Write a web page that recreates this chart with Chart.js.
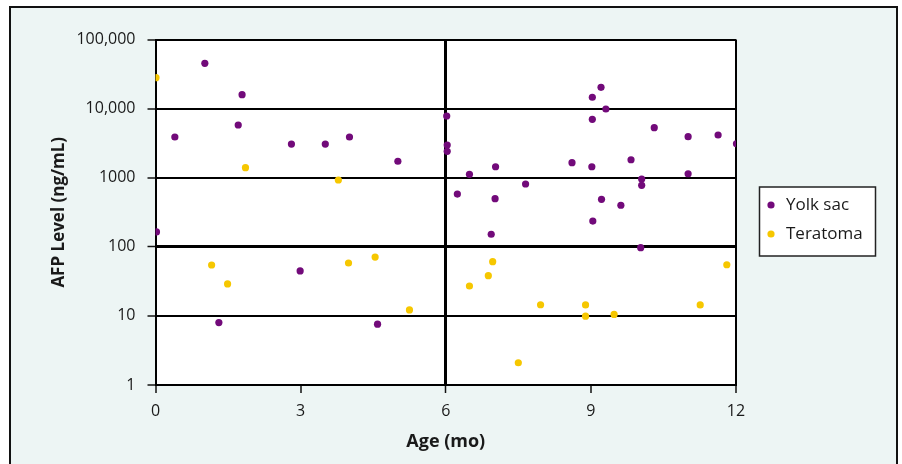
<!DOCTYPE html>
<html>
<head>
<meta charset="utf-8">
<script src="https://cdn.jsdelivr.net/npm/chart.js@4.4.1/dist/chart.umd.min.js"></script>
<style>
  html, body { margin: 0; padding: 0; background: #ffffff; }
  canvas { display: block; }
</style>
</head>
<body>
<canvas id="c" width="902" height="464"></canvas>
<script>
// ---- Data ----
const seriesNames = ['Yolk sac', 'Teratoma'];
const yolkAge = [0.02, 0.40, 1.02, 1.31, 1.71, 1.79, 2.81, 2.99, 3.51, 4.01, 4.59, 5.01,
  6.02, 6.03, 6.03, 6.24, 6.49, 6.94, 7.02, 7.03, 7.65, 8.61, 9.02, 9.03, 9.03, 9.04,
  9.21, 9.22, 9.31, 9.62, 9.83, 10.03, 10.05, 10.05, 10.31, 11.01, 11.01, 11.63, 12.01];
const yolkAfp = [164, 3880, 45200, 8.0, 5790, 15900, 3070, 44.7, 3070, 3880, 7.6, 1730,
  7810, 2970, 2410, 580, 1120, 152, 497, 1440, 811, 1650, 1440, 14600, 7000, 236,
  20300, 487, 9870, 399, 1820, 97, 957, 776, 5290, 3920, 1140, 4150, 3100];
const teratomaAge = [0.01, 1.16, 1.49, 1.86, 3.78, 3.99, 4.54, 5.25, 6.49, 6.88, 6.97,
  7.50, 7.96, 8.89, 8.89, 9.48, 11.26, 11.81];
const teratomaAfp = [28000, 54.5, 29, 1395, 926, 58.3, 71, 12.2, 27.1, 38.2, 60.9,
  2.1, 14.5, 14.4, 9.9, 10.5, 14.4, 55];
const xTickValues = [0, 3, 6, 9, 12];
const yTickValues = [1, 10, 100, 1000, 10000, 100000];
const yTickLabels = ['1', '10', '100', '1000', '10,000', '100,000'];
const xTitle = 'Age (mo)';
const yTitle = 'AFP Level (ng/mL)';

const purple = '#720a7a';
const yellow = '#f6c700';
const FONT = "'Open Sans', 'Noto Sans', sans-serif";

const toPoints = (xs, ys) => xs.map((x, i) => ({ x: x, y: ys[i] }));

const framePlugin = {
  id: 'frame',
  beforeDraw(chart) {
    const ctx = chart.ctx;
    const a = chart.chartArea;
    ctx.save();
    ctx.fillStyle = '#ffffff';
    ctx.fillRect(0, 0, chart.width, chart.height);
    ctx.fillStyle = '#edf5f4';
    ctx.fillRect(10, 7, 887, 470);
    ctx.strokeStyle = '#111';
    ctx.lineWidth = 2;
    ctx.strokeRect(10, 7, 887, 470);
    ctx.fillStyle = '#ffffff';
    ctx.fillRect(a.left, a.top, a.right - a.left, a.bottom - a.top);
    ctx.restore();
  },
  afterDraw(chart) {
    const ctx = chart.ctx;
    ctx.save();
    ctx.fillStyle = '#ffffff';
    ctx.fillRect(759.5, 187, 116, 69);
    ctx.strokeStyle = '#222';
    ctx.lineWidth = 1.5;
    ctx.strokeRect(759.5, 187, 116, 69);
    const ys = [205, 234];
    chart.data.datasets.forEach((ds, i) => {
      ctx.beginPath();
      ctx.fillStyle = ds.backgroundColor;
      ctx.arc(771, ys[i], 3.6, 0, Math.PI * 2);
      ctx.fill();
      ctx.fillStyle = '#1a1a1a';
      ctx.font = '17px ' + FONT;
      ctx.textBaseline = 'middle';
      ctx.textAlign = 'left';
      ctx.fillText(ds.label, 786, ys[i] + 0.5);
    });
    ctx.restore();
  }
};

new Chart(document.getElementById('c'), {
  type: 'scatter',
  data: {
    datasets: [
      { label: seriesNames[0], data: toPoints(yolkAge, yolkAfp),
        backgroundColor: purple, borderColor: purple, borderWidth: 0,
        pointRadius: 3.6, pointHoverRadius: 3.6 },
      { label: seriesNames[1], data: toPoints(teratomaAge, teratomaAfp),
        backgroundColor: yellow, borderColor: yellow, borderWidth: 0,
        pointRadius: 3.6, pointHoverRadius: 3.6 }
    ]
  },
  options: {
    responsive: false,
    animation: false,
    events: [],
    layout: { padding: { top: 39.5, right: 166, bottom: 0, left: 0 } },
    plugins: { legend: { display: false }, tooltip: { enabled: false } },
    scales: {
      x: {
        type: 'linear',
        min: 0, max: 12,
        afterBuildTicks: s => { s.ticks = xTickValues.map(v => ({ value: v })); },
        afterFit: s => { s.height = 79; },
        ticks: { padding: 9, color: '#1a1a1a', font: { family: FONT, size: 16 }, maxRotation: 0 },
        grid: {
          color: c => (c.tick && (c.tick.value === 6 || c.tick.value === 0 || c.tick.value === 12)) ? '#000' : 'rgba(0,0,0,0)',
          lineWidth: c => (c.tick && c.tick.value === 6) ? 3 : 2,
          tickColor: '#111', tickWidth: 1.5, tickLength: 8, drawTicks: true
        },
        border: { display: true, color: '#000', width: 2 },
        title: { display: true, text: xTitle, color: '#1a1a1a',
          font: { family: FONT, size: 18, weight: 'bold' }, padding: { top: 0, bottom: 11.5 } }
      },
      y: {
        type: 'logarithmic',
        min: 1, max: 100000,
        afterBuildTicks: s => { s.ticks = yTickValues.map(v => ({ value: v })); },
        afterFit: s => { s.width = 155.5; },
        ticks: { padding: 12, color: '#1a1a1a', font: { family: FONT, size: 16 },
          callback: v => { const i = yTickValues.indexOf(v); return i >= 0 ? yTickLabels[i] : ''; } },
        grid: {
          color: '#000',
          lineWidth: c => (c.tick && c.tick.value === 100) ? 3 : 2,
          tickColor: '#111', tickWidth: 1.5, tickLength: 8, drawTicks: true
        },
        border: { display: true, color: '#000', width: 2 },
        title: { display: true, text: yTitle, color: '#1a1a1a',
          font: { family: FONT, size: 17, weight: 'bold' }, padding: { top: 49, bottom: 0 } }
      }
    }
  },
  plugins: [framePlugin]
});
</script>
</body>
</html>
